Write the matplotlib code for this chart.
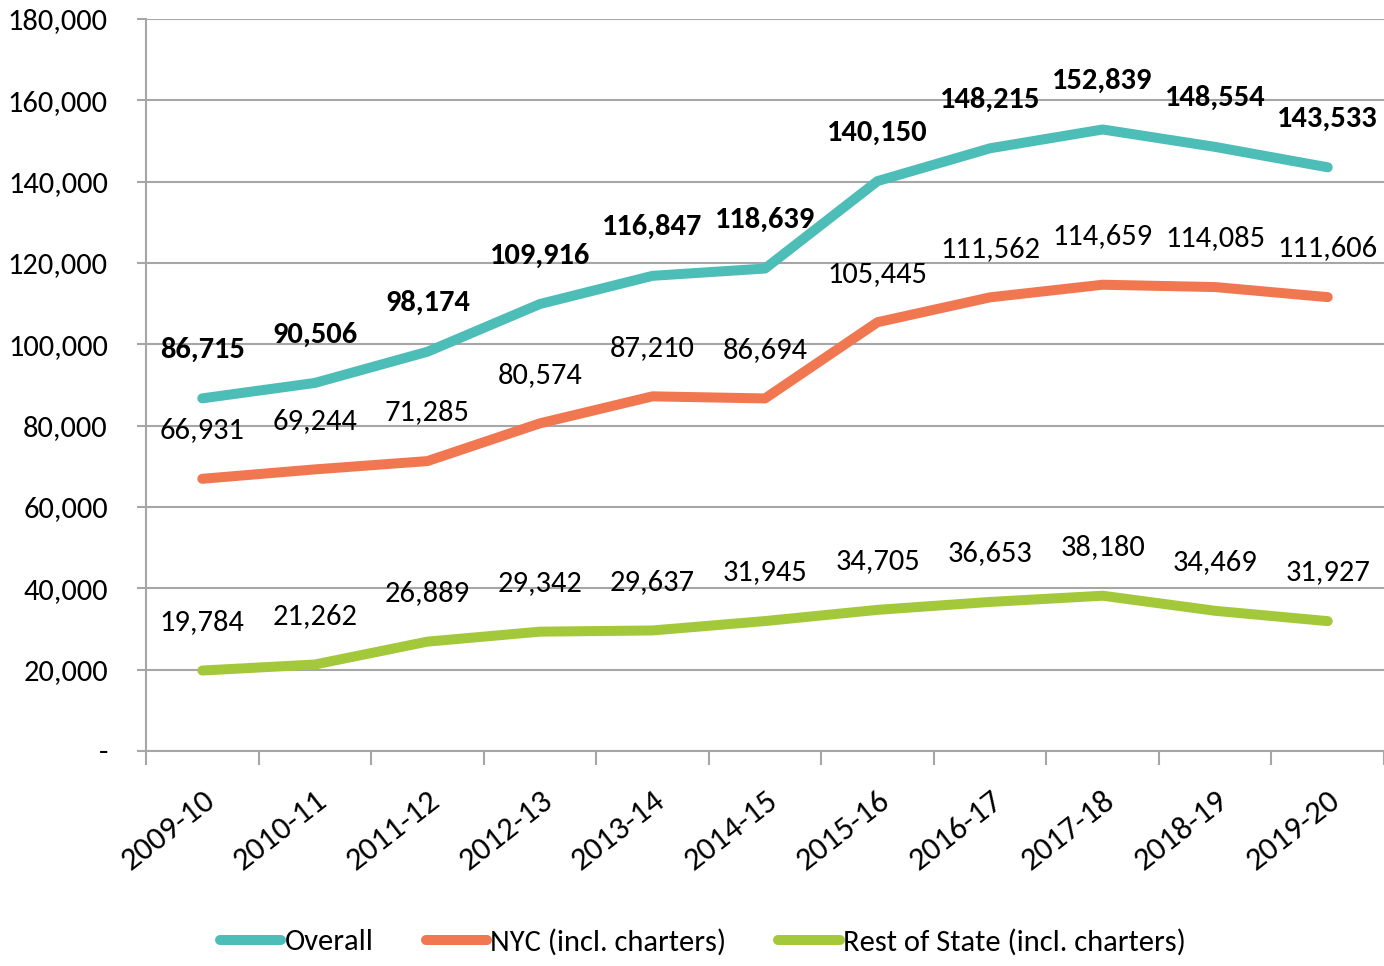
import numpy as np
import matplotlib.pyplot as plt
from matplotlib.ticker import FuncFormatter

years = ["2009-10", "2010-11", "2011-12", "2012-13", "2013-14", "2014-15",
         "2015-16", "2016-17", "2017-18", "2018-19", "2019-20"]
overall = [86715, 90506, 98174, 109916, 116847, 118639,
           140150, 148215, 152839, 148554, 143533]
nyc = [66931, 69244, 71285, 80574, 87210, 86694,
       105445, 111562, 114659, 114085, 111606]
rest = [19784, 21262, 26889, 29342, 29637, 31945,
        34705, 36653, 38180, 34469, 31927]

plt.rcParams['font.family'] = ['Carlito', 'DejaVu Sans']

teal = "#4DBDB8"
orange = "#F0774F"
green = "#A3C93A"
grid = "#A6A6A6"
fs = 22

fig = plt.figure(figsize=(13.84, 9.66), dpi=100)
ax = fig.add_axes([0.1055, 0.2226, 0.8945, 0.7577])

x = np.arange(len(years))
series = [
    (overall, teal, "Overall", "bold"),
    (nyc, orange, "NYC (incl. charters)", "normal"),
    (rest, green, "Rest of State (incl. charters)", "normal"),
]
for vals, col, lab, w in series:
    ax.plot(x, vals, color=col, lw=7.2, solid_capstyle='round', label=lab, zorder=3)
    for xi, v in zip(x, vals):
        ax.annotate(f"{v:,}", (xi, v), xytext=(0, 35), textcoords='offset points',
                    ha='center', va='center', fontsize=fs, fontweight=w, color='black')

ax.set_xlim(-0.5, len(years) - 0.5)
ax.set_ylim(0, 180000)
ax.set_yticks(np.arange(0, 180001, 20000))
ax.yaxis.set_major_formatter(FuncFormatter(lambda v, p: "-" if v == 0 else f"{int(v):,}"))
ax.set_xticks(x)
ax.set_xticklabels(years, rotation=38, ha='right', rotation_mode='anchor')
ax.set_xticks(np.arange(-0.5, len(years), 1), minor=True)

ax.grid(axis='y', color=grid, lw=1.5)
ax.set_axisbelow(True)
for s in ["top", "right"]:
    ax.spines[s].set_visible(False)
for s in ["left", "bottom"]:
    ax.spines[s].set_color(grid)
    ax.spines[s].set_linewidth(1.5)
ax.tick_params(axis='y', length=6.5, width=1.5, color=grid, labelsize=fs, pad=21)
ax.tick_params(axis='x', which='major', length=0, labelsize=23.5, pad=25)
ax.tick_params(axis='x', which='minor', length=10, width=1.5, color=grid)

fig.legend(loc='center', bbox_to_anchor=(0.508, 0.025), ncol=3, frameon=False,
           fontsize=fs, handlelength=2.0, handletextpad=0.12, columnspacing=1.7)

fig.savefig("out.png", dpi=100)
